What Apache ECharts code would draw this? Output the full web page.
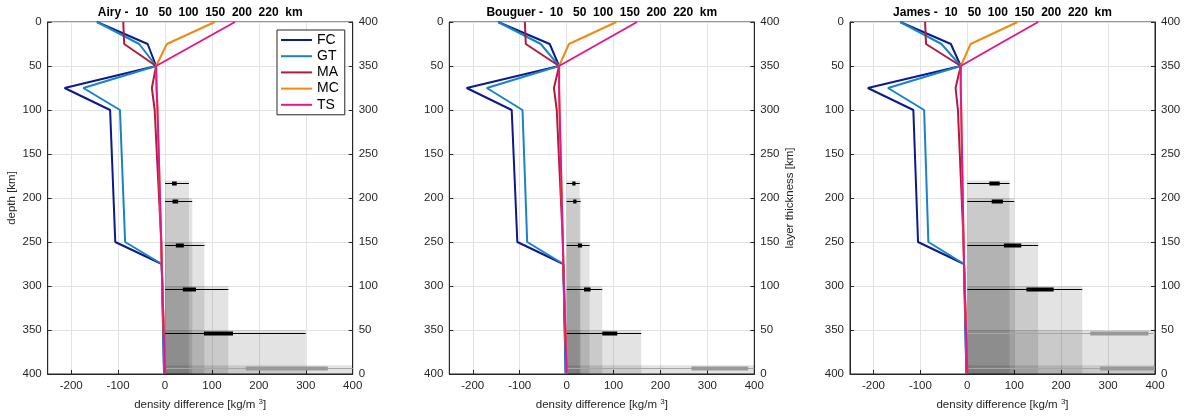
<!DOCTYPE html>
<html>
<head>
<meta charset="utf-8">
<title>Density difference profiles</title>
<script src="https://cdn.jsdelivr.net/npm/echarts@6/dist/echarts.min.js"></script>
<style>
  html, body { margin: 0; padding: 0; background: #fff; }
  #chart { width: 1184px; height: 416px; }
</style>
</head>
<body>
<div id="chart"></div>
<script>
// ---- data ---------------------------------------------------------------
const depthKm = [0, 25, 50, 75, 100, 250, 275, 400];
const modelNames = ['FC', 'GT', 'MA', 'MC', 'TS'];

// density difference [kg/m^3] at each depth, per isostasy model
const airyFC = [-145, -37, -19, -214, -117, -106, -7, -2];
const airyGT = [-145, -55, -19, -174, -96, -85, -7, -2];
const airyMA = [-89, -87, -19, -28, -22, -8, -7, 0];
const airyMC = [106, 4, -19, -18, -16, -8, -7, 0];
const airyTS = [149, 65, -19, -18, -16, -8, -7, 0];

const bouguerFC = [-146, -36, -16, -213, -117, -105, -7, -2];
const bouguerGT = [-146, -55, -16, -170, -94, -84, -7, -2];
const bouguerMA = [-89, -87, -16, -27, -21, -8, -7, 0];
const bouguerMC = [106, 5, -16, -16, -15, -8, -7, 0];
const bouguerTS = [150, 67, -16, -16, -15, -8, -7, 0];

const jamesFC = [-143, -35, -14, -212, -115, -105, -7, -2];
const jamesGT = [-143, -55, -14, -169, -92, -83, -7, -2];
const jamesMA = [-90, -88, -14, -25, -20, -8, -7, 0];
const jamesMC = [107, 7, -14, -14, -13, -8, -7, 0];
const jamesTS = [151, 68, -14, -14, -13, -8, -7, 0];

// layer thickness [km] and the density range found for each layer
const baseDepth = 400;
const layerThickness = [220, 200, 150, 100, 50, 10];

const airyMax = [51, 58, 84, 135, 300, 480];
const airyLow = [15, 16, 23, 38, 83, 172];
const airyHigh = [25, 28, 40, 66, 145, 347];
const airyFlag = [0, 0, 0, 0, 0, 1];

const bouguerMax = [28, 30, 49, 76, 159, 480];
const bouguerLow = [12, 14, 24, 37, 76, 266];
const bouguerHigh = [19, 21, 33, 51, 108, 387];
const bouguerFlag = [0, 0, 0, 0, 0, 1];

const jamesMax = [90, 100, 151, 245, 480, 480];
const jamesLow = [47, 52, 78, 126, 262, 283];
const jamesHigh = [69, 76, 115, 184, 386, 420];
const jamesFlag = [0, 0, 0, 0, 1, 1];

const xTicks = [-200, -100, 0, 100, 200, 300, 400];
const panelTitles = [
  'Airy -  10   50  100  150  200  220  km',
  'Bouguer -  10   50  100  150  200  220  km',
  'James -  10   50  100  150  200  220  km'
];

// ---- styling ------------------------------------------------------------
const FONT = '"Liberation Sans", Arial, Helvetica, sans-serif';
const AX = '#262626';
const GRID = '#e3e3e3';
const modelColors = ['#0c1a8c', '#1984c5', '#b01c3c', '#f08a10', '#e2178c'];

const panels = [
  { lines: [airyFC, airyGT, airyMA, airyMC, airyTS], max: airyMax, low: airyLow, high: airyHigh, flag: airyFlag },
  { lines: [bouguerFC, bouguerGT, bouguerMA, bouguerMC, bouguerTS], max: bouguerMax, low: bouguerLow, high: bouguerHigh, flag: bouguerFlag },
  { lines: [jamesFC, jamesGT, jamesMA, jamesMC, jamesTS], max: jamesMax, low: jamesLow, high: jamesHigh, flag: jamesFlag }
];

const gridLefts = [47.7, 449.3, 850];
const gridTop = 22, gridW = 305, gridH = 352;

function clipBoxOf(cs) {
  return { x: cs.x, y: cs.y, width: cs.width, height: cs.height };
}

// translucent layer blocks: from the layer top down to the base, 0 .. max density
function renderLayerBlock(params, api) {
  const top = baseDepth - api.value(0);
  const a = api.coord([0, top]);
  const b = api.coord([api.value(1), baseDepth]);
  const shape = echarts.graphic.clipRectByRect(
    { x: a[0], y: a[1], width: b[0] - a[0], height: b[1] - a[1] },
    clipBoxOf(params.coordSys)
  );
  if (!shape) return null;
  return { type: 'rect', shape: shape, style: { fill: 'rgba(0,0,0,0.11)' } };
}

// range bars drawn just under each layer top
function renderLayerRange(params, api) {
  const cs = params.coordSys;
  const right = cs.x + cs.width;
  const top = baseDepth - api.value(0);
  const a = api.coord([0, top]);
  const xEnd = Math.min(api.coord([api.value(1), top])[0], right);
  const q1 = Math.min(api.coord([api.value(2), top])[0], right);
  const q2 = Math.min(api.coord([api.value(3), top])[0], right);
  const flagged = api.value(4) === 1;
  const y = Math.round(a[1] + 2.6) + 0.5;
  return {
    type: 'group',
    children: [
      { type: 'line', shape: { x1: a[0], y1: y, x2: xEnd, y2: y },
        style: { stroke: flagged ? '#a6a6a6' : '#000', lineWidth: 1 } },
      { type: 'rect', shape: { x: q1, y: y - 2, width: q2 - q1, height: 4 },
        style: { fill: flagged ? '#999999' : '#000' } }
    ]
  };
}

const grid = [], xAxis = [], yAxis = [], series = [];

panels.forEach((p, i) => {
  grid.push({
    left: gridLefts[i], top: gridTop, width: gridW, height: gridH,
    show: true, borderColor: AX, borderWidth: 1, backgroundColor: 'transparent',
    containLabel: false, outerBoundsMode: 'none'
  });

  xAxis.push({
    gridIndex: i, type: 'value', min: -250, max: 400,
    axisLine: { show: true, onZero: false, lineStyle: { color: AX, width: 1 } },
    axisTick: { show: true, inside: true, length: 4, customValues: xTicks, lineStyle: { color: AX } },
    axisLabel: { customValues: xTicks, color: AX, fontSize: 11.5, fontFamily: FONT, margin: 6 },
    splitLine: { show: true, lineStyle: { color: GRID, width: 1 } },
    name: 'density difference [kg/m {sup|3}]',
    nameLocation: 'middle', nameGap: 24,
    nameTextStyle: {
      color: AX, fontSize: 11.5, fontFamily: FONT,
      rich: { sup: { fontSize: 8, fontFamily: FONT, color: AX, verticalAlign: 'top', padding: [0, 0, 5, 0] } }
    }
  });

  // depth axis (left) and layer-thickness axis (right)
  yAxis.push({
    gridIndex: i, type: 'value', inverse: true, min: 0, max: baseDepth, interval: 50, position: 'left',
    axisLine: { show: true, onZero: false, lineStyle: { color: AX, width: 1 } },
    axisTick: { show: true, inside: true, length: 4, lineStyle: { color: AX } },
    axisLabel: { color: AX, fontSize: 11.5, fontFamily: FONT, margin: 6 },
    splitLine: { show: true, lineStyle: { color: GRID, width: 1 } },
    name: i === 0 ? 'depth [km]' : '',
    nameLocation: 'middle', nameGap: 30, nameRotate: 90,
    nameTextStyle: { color: AX, fontSize: 11.5, fontFamily: FONT }
  });
  yAxis.push({
    gridIndex: i, type: 'value', min: 0, max: baseDepth, interval: 50, position: 'right',
    axisLine: { show: true, onZero: false, lineStyle: { color: AX, width: 1 } },
    axisTick: { show: true, inside: true, length: 4, lineStyle: { color: AX } },
    axisLabel: { color: AX, fontSize: 11.5, fontFamily: FONT, margin: 6 },
    splitLine: { show: false },
    name: i === 1 ? 'layer thickness [km]' : '',
    nameLocation: 'middle', nameGap: 30, nameRotate: 90,
    nameTextStyle: { color: AX, fontSize: 11.5, fontFamily: FONT }
  });

  const layerData = layerThickness.map((t, k) => [t, p.max[k], p.low[k], p.high[k], p.flag[k]]);

  series.push({
    type: 'custom', xAxisIndex: i, yAxisIndex: i * 2, z: 1, silent: true,
    renderItem: renderLayerBlock, data: layerData
  });
  series.push({
    type: 'custom', xAxisIndex: i, yAxisIndex: i * 2, z: 2, silent: true,
    renderItem: renderLayerRange, data: layerData
  });

  p.lines.forEach((vals, m) => {
    series.push({
      type: 'line', name: modelNames[m], xAxisIndex: i, yAxisIndex: i * 2, z: 3,
      symbol: 'none', showSymbol: false, silent: true,
      lineStyle: { width: 2, color: modelColors[m] },
      itemStyle: { color: modelColors[m] },
      data: vals.map((v, k) => [v, depthKm[k]])
    });
  });
});

const chart = echarts.init(document.getElementById('chart'), null, { renderer: 'canvas' });
chart.setOption({
  animation: false,
  backgroundColor: '#fff',
  textStyle: { fontFamily: FONT },
  grid: grid,
  xAxis: xAxis,
  yAxis: yAxis,
  legend: {
    data: modelNames, orient: 'vertical', left: 277, top: 30,
    icon: 'rect', itemWidth: 31, itemHeight: 2, itemGap: 2.2,
    padding: [3, 6, 3, 4],
    borderColor: AX, borderWidth: 1, backgroundColor: '#fff',
    selectedMode: false,
    textStyle: { fontSize: 14, color: '#000', fontFamily: FONT }
  },
  graphic: panelTitles.map((t, i) => ({
    type: 'text', x: gridLefts[i] + gridW / 2, y: 13,
    style: { text: t, font: 'bold 12px ' + FONT, fill: '#000', align: 'center', verticalAlign: 'middle' }
  })),
  series: series
});
</script>
</body>
</html>
